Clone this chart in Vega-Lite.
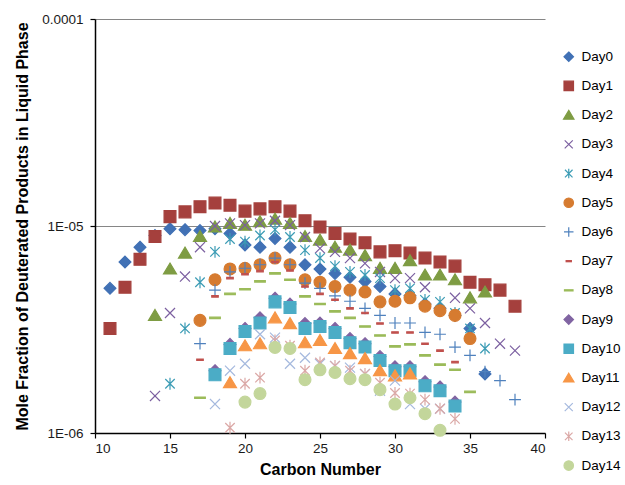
{
"$schema": "https://vega.github.io/schema/vega-lite/v6.json",
"width": 450,
"height": 414,
"autosize": {"type": "none"},
"padding": {"left": 95, "top": 19, "right": 80, "bottom": 52},
"background": "white",
"data": {"values": [
{"day":"Day0","c":11,"v":5.0e-6},{"day":"Day0","c":12,"v":6.7e-6},{"day":"Day0","c":13,"v":7.9e-6},{"day":"Day0","c":14,"v":9.0e-6},{"day":"Day0","c":15,"v":9.7e-6},{"day":"Day0","c":16,"v":9.6e-6},{"day":"Day0","c":17,"v":9.5e-6},{"day":"Day0","c":18,"v":9.7e-6},{"day":"Day0","c":19,"v":9.2e-6},{"day":"Day0","c":20,"v":8.1e-6},{"day":"Day0","c":21,"v":7.9e-6},{"day":"Day0","c":22,"v":8.7e-6},{"day":"Day0","c":23,"v":7.9e-6},{"day":"Day0","c":24,"v":6.5e-6},{"day":"Day0","c":25,"v":6.2e-6},{"day":"Day0","c":26,"v":5.9e-6},{"day":"Day0","c":27,"v":5.65e-6},{"day":"Day0","c":28,"v":5.4e-6},{"day":"Day0","c":29,"v":5.1e-6},{"day":"Day0","c":30,"v":4.7e-6},{"day":"Day0","c":31,"v":4.6e-6},{"day":"Day0","c":32,"v":4.2e-6},{"day":"Day0","c":33,"v":4.0e-6},{"day":"Day0","c":34,"v":3.7e-6},{"day":"Day0","c":35,"v":3.2e-6},{"day":"Day0","c":36,"v":1.93e-6},
{"day":"Day1","c":11,"v":3.2e-6},{"day":"Day1","c":12,"v":5.06e-6},{"day":"Day1","c":13,"v":6.9e-6},{"day":"Day1","c":14,"v":8.9e-6},{"day":"Day1","c":15,"v":1.11e-5},{"day":"Day1","c":16,"v":1.17e-5},{"day":"Day1","c":17,"v":1.24e-5},{"day":"Day1","c":18,"v":1.29e-5},{"day":"Day1","c":19,"v":1.26e-5},{"day":"Day1","c":20,"v":1.18e-5},{"day":"Day1","c":21,"v":1.21e-5},{"day":"Day1","c":22,"v":1.24e-5},{"day":"Day1","c":23,"v":1.18e-5},{"day":"Day1","c":24,"v":1.06e-5},{"day":"Day1","c":25,"v":9.9e-6},{"day":"Day1","c":26,"v":9.2e-6},{"day":"Day1","c":27,"v":8.65e-6},{"day":"Day1","c":28,"v":8.3e-6},{"day":"Day1","c":29,"v":7.5e-6},{"day":"Day1","c":30,"v":7.6e-6},{"day":"Day1","c":31,"v":7.4e-6},{"day":"Day1","c":32,"v":7.0e-6},{"day":"Day1","c":33,"v":6.7e-6},{"day":"Day1","c":34,"v":6.4e-6},{"day":"Day1","c":35,"v":5.35e-6},{"day":"Day1","c":36,"v":5.2e-6},{"day":"Day1","c":37,"v":4.9e-6},{"day":"Day1","c":38,"v":4.1e-6},
{"day":"Day2","c":14,"v":3.7e-6},{"day":"Day2","c":15,"v":6.2e-6},{"day":"Day2","c":16,"v":7.4e-6},{"day":"Day2","c":17,"v":8.9e-6},{"day":"Day2","c":18,"v":9.9e-6},{"day":"Day2","c":19,"v":1.03e-5},{"day":"Day2","c":20,"v":1.01e-5},{"day":"Day2","c":21,"v":1.05e-5},{"day":"Day2","c":22,"v":1.08e-5},{"day":"Day2","c":23,"v":1.03e-5},{"day":"Day2","c":24,"v":8.9e-6},{"day":"Day2","c":25,"v":8.55e-6},{"day":"Day2","c":26,"v":7.9e-6},{"day":"Day2","c":27,"v":7.65e-6},{"day":"Day2","c":28,"v":7.2e-6},{"day":"Day2","c":29,"v":6.25e-6},{"day":"Day2","c":30,"v":6.25e-6},{"day":"Day2","c":31,"v":6.8e-6},{"day":"Day2","c":32,"v":5.8e-6},{"day":"Day2","c":33,"v":5.8e-6},{"day":"Day2","c":34,"v":5.5e-6},{"day":"Day2","c":35,"v":4.5e-6},{"day":"Day2","c":36,"v":4.8e-6},
{"day":"Day3","c":14,"v":1.51e-6},{"day":"Day3","c":15,"v":3.8e-6},{"day":"Day3","c":16,"v":5.7e-6},{"day":"Day3","c":17,"v":7.9e-6},{"day":"Day3","c":18,"v":1.0e-5},{"day":"Day3","c":19,"v":1.03e-5},{"day":"Day3","c":20,"v":1.01e-5},{"day":"Day3","c":21,"v":1.03e-5},{"day":"Day3","c":22,"v":1.06e-5},{"day":"Day3","c":23,"v":1.01e-5},{"day":"Day3","c":24,"v":8.85e-6},{"day":"Day3","c":25,"v":7.8e-6},{"day":"Day3","c":26,"v":7.5e-6},{"day":"Day3","c":27,"v":7.0e-6},{"day":"Day3","c":28,"v":6.6e-6},{"day":"Day3","c":29,"v":6.0e-6},{"day":"Day3","c":30,"v":5.6e-6},{"day":"Day3","c":31,"v":5.6e-6},{"day":"Day3","c":32,"v":5.06e-6},{"day":"Day3","c":34,"v":4.5e-6},{"day":"Day3","c":35,"v":4.0e-6},{"day":"Day3","c":36,"v":3.4e-6},{"day":"Day3","c":37,"v":2.7e-6},{"day":"Day3","c":38,"v":2.5e-6},
{"day":"Day4","c":15,"v":1.73e-6},{"day":"Day4","c":16,"v":3.2e-6},{"day":"Day4","c":17,"v":5.35e-6},{"day":"Day4","c":18,"v":7.5e-6},{"day":"Day4","c":19,"v":8.65e-6},{"day":"Day4","c":20,"v":8.4e-6},{"day":"Day4","c":21,"v":9.0e-6},{"day":"Day4","c":22,"v":9.6e-6},{"day":"Day4","c":23,"v":8.85e-6},{"day":"Day4","c":24,"v":7.65e-6},{"day":"Day4","c":25,"v":7.0e-6},{"day":"Day4","c":26,"v":6.4e-6},{"day":"Day4","c":27,"v":6.0e-6},{"day":"Day4","c":28,"v":5.8e-6},{"day":"Day4","c":29,"v":5.6e-6},{"day":"Day4","c":30,"v":4.9e-6},{"day":"Day4","c":31,"v":5.0e-6},{"day":"Day4","c":32,"v":4.4e-6},{"day":"Day4","c":33,"v":4.3e-6},{"day":"Day4","c":34,"v":3.8e-6},{"day":"Day4","c":35,"v":3.2e-6},{"day":"Day4","c":36,"v":2.56e-6},
{"day":"Day5","c":17,"v":3.5e-6},{"day":"Day5","c":18,"v":5.5e-6},{"day":"Day5","c":19,"v":6.2e-6},{"day":"Day5","c":20,"v":6.25e-6},{"day":"Day5","c":21,"v":6.5e-6},{"day":"Day5","c":22,"v":7.0e-6},{"day":"Day5","c":23,"v":6.5e-6},{"day":"Day5","c":24,"v":5.5e-6},{"day":"Day5","c":25,"v":5.35e-6},{"day":"Day5","c":26,"v":5.1e-6},{"day":"Day5","c":27,"v":4.9e-6},{"day":"Day5","c":28,"v":4.8e-6},{"day":"Day5","c":29,"v":4.3e-6},{"day":"Day5","c":30,"v":4.33e-6},{"day":"Day5","c":31,"v":4.5e-6},{"day":"Day5","c":32,"v":4.1e-6},{"day":"Day5","c":33,"v":3.9e-6},{"day":"Day5","c":34,"v":3.7e-6},{"day":"Day5","c":35,"v":2.86e-6},
{"day":"Day6","c":17,"v":2.7e-6},{"day":"Day6","c":18,"v":4.9e-6},{"day":"Day6","c":19,"v":6.0e-6},{"day":"Day6","c":20,"v":6.25e-6},{"day":"Day6","c":21,"v":6.5e-6},{"day":"Day6","c":22,"v":7.0e-6},{"day":"Day6","c":23,"v":6.5e-6},{"day":"Day6","c":24,"v":5.3e-6},{"day":"Day6","c":25,"v":5.0e-6},{"day":"Day6","c":26,"v":4.6e-6},{"day":"Day6","c":27,"v":4.33e-6},{"day":"Day6","c":28,"v":4.0e-6},{"day":"Day6","c":29,"v":3.7e-6},{"day":"Day6","c":30,"v":3.4e-6},{"day":"Day6","c":31,"v":3.4e-6},{"day":"Day6","c":32,"v":3.06e-6},{"day":"Day6","c":33,"v":3.0e-6},{"day":"Day6","c":34,"v":2.6e-6},{"day":"Day6","c":35,"v":2.37e-6},{"day":"Day6","c":36,"v":1.98e-6},{"day":"Day6","c":37,"v":1.79e-6},{"day":"Day6","c":38,"v":1.45e-6},
{"day":"Day7","c":17,"v":2.26e-6},{"day":"Day7","c":18,"v":4.57e-6},{"day":"Day7","c":19,"v":5.6e-6},{"day":"Day7","c":20,"v":5.85e-6},{"day":"Day7","c":21,"v":6.05e-6},{"day":"Day7","c":22,"v":6.7e-6},{"day":"Day7","c":23,"v":6.1e-6},{"day":"Day7","c":24,"v":5.1e-6},{"day":"Day7","c":25,"v":4.7e-6},{"day":"Day7","c":26,"v":4.4e-6},{"day":"Day7","c":27,"v":4.0e-6},{"day":"Day7","c":28,"v":3.8e-6},{"day":"Day7","c":29,"v":3.38e-6},{"day":"Day7","c":30,"v":3.06e-6},{"day":"Day7","c":31,"v":3.06e-6},{"day":"Day7","c":32,"v":2.7e-6},{"day":"Day7","c":33,"v":2.5e-6},{"day":"Day7","c":34,"v":2.2e-6},
{"day":"Day8","c":17,"v":1.48e-6},{"day":"Day8","c":18,"v":3.6e-6},{"day":"Day8","c":19,"v":4.7e-6},{"day":"Day8","c":20,"v":4.95e-6},{"day":"Day8","c":21,"v":5.4e-6},{"day":"Day8","c":22,"v":5.9e-6},{"day":"Day8","c":23,"v":5.5e-6},{"day":"Day8","c":24,"v":4.57e-6},{"day":"Day8","c":25,"v":4.2e-6},{"day":"Day8","c":26,"v":3.87e-6},{"day":"Day8","c":27,"v":3.6e-6},{"day":"Day8","c":28,"v":3.27e-6},{"day":"Day8","c":29,"v":2.96e-6},{"day":"Day8","c":30,"v":2.62e-6},{"day":"Day8","c":31,"v":2.68e-6},{"day":"Day8","c":32,"v":2.37e-6},{"day":"Day8","c":33,"v":2.14e-6},{"day":"Day8","c":34,"v":2.02e-6},{"day":"Day8","c":35,"v":1.58e-6},
{"day":"Day9","c":18,"v":2.0e-6},{"day":"Day9","c":19,"v":2.68e-6},{"day":"Day9","c":20,"v":3.2e-6},{"day":"Day9","c":21,"v":3.6e-6},{"day":"Day9","c":22,"v":4.48e-6},{"day":"Day9","c":23,"v":4.2e-6},{"day":"Day9","c":24,"v":3.38e-6},{"day":"Day9","c":25,"v":3.4e-6},{"day":"Day9","c":26,"v":3.2e-6},{"day":"Day9","c":27,"v":2.86e-6},{"day":"Day9","c":28,"v":2.7e-6},{"day":"Day9","c":29,"v":2.34e-6},{"day":"Day9","c":30,"v":2.09e-6},{"day":"Day9","c":31,"v":2.09e-6},{"day":"Day9","c":32,"v":1.77e-6},{"day":"Day9","c":33,"v":1.67e-6},{"day":"Day9","c":34,"v":1.41e-6},
{"day":"Day10","c":18,"v":1.91e-6},{"day":"Day10","c":19,"v":2.56e-6},{"day":"Day10","c":20,"v":3.09e-6},{"day":"Day10","c":21,"v":3.4e-6},{"day":"Day10","c":22,"v":4.3e-6},{"day":"Day10","c":23,"v":4.04e-6},{"day":"Day10","c":24,"v":3.2e-6},{"day":"Day10","c":25,"v":3.27e-6},{"day":"Day10","c":26,"v":3.06e-6},{"day":"Day10","c":27,"v":2.73e-6},{"day":"Day10","c":28,"v":2.6e-6},{"day":"Day10","c":29,"v":2.24e-6},{"day":"Day10","c":30,"v":2.0e-6},{"day":"Day10","c":31,"v":2.0e-6},{"day":"Day10","c":32,"v":1.69e-6},{"day":"Day10","c":33,"v":1.6e-6},{"day":"Day10","c":34,"v":1.35e-6},
{"day":"Day11","c":19,"v":1.75e-6},{"day":"Day11","c":20,"v":2.64e-6},{"day":"Day11","c":21,"v":2.7e-6},{"day":"Day11","c":22,"v":3.6e-6},{"day":"Day11","c":23,"v":3.38e-6},{"day":"Day11","c":24,"v":2.73e-6},{"day":"Day11","c":25,"v":2.8e-6},{"day":"Day11","c":26,"v":2.56e-6},{"day":"Day11","c":27,"v":2.42e-6},{"day":"Day11","c":28,"v":2.29e-6},{"day":"Day11","c":29,"v":2.0e-6},{"day":"Day11","c":30,"v":1.89e-6},{"day":"Day11","c":31,"v":1.93e-6},
{"day":"Day12","c":18,"v":1.38e-6},{"day":"Day12","c":19,"v":2.0e-6},{"day":"Day12","c":20,"v":2.16e-6},{"day":"Day12","c":21,"v":3.0e-6},{"day":"Day12","c":22,"v":2.89e-6},{"day":"Day12","c":23,"v":2.16e-6},{"day":"Day12","c":24,"v":2.31e-6},{"day":"Day12","c":25,"v":2.16e-6},{"day":"Day12","c":26,"v":2.11e-6},{"day":"Day12","c":27,"v":2.07e-6},{"day":"Day12","c":28,"v":1.93e-6},{"day":"Day12","c":29,"v":1.6e-6},{"day":"Day12","c":30,"v":1.79e-6},{"day":"Day12","c":31,"v":1.38e-6},{"day":"Day12","c":32,"v":1.31e-6},{"day":"Day12","c":33,"v":1.31e-6},
{"day":"Day13","c":19,"v":1.06e-6},{"day":"Day13","c":20,"v":1.73e-6},{"day":"Day13","c":21,"v":1.85e-6},{"day":"Day13","c":22,"v":2.8e-6},{"day":"Day13","c":23,"v":2.64e-6},{"day":"Day13","c":24,"v":2.0e-6},{"day":"Day13","c":25,"v":2.19e-6},{"day":"Day13","c":26,"v":2.11e-6},{"day":"Day13","c":27,"v":2.0e-6},{"day":"Day13","c":28,"v":1.93e-6},{"day":"Day13","c":29,"v":1.75e-6},{"day":"Day13","c":30,"v":1.56e-6},{"day":"Day13","c":31,"v":1.55e-6},{"day":"Day13","c":32,"v":1.45e-6},{"day":"Day13","c":33,"v":1.31e-6},{"day":"Day13","c":34,"v":1.17e-6},
{"day":"Day14","c":20,"v":1.41e-6},{"day":"Day14","c":21,"v":1.55e-6},{"day":"Day14","c":22,"v":2.59e-6},{"day":"Day14","c":23,"v":2.56e-6},{"day":"Day14","c":24,"v":1.81e-6},{"day":"Day14","c":25,"v":2.02e-6},{"day":"Day14","c":26,"v":1.96e-6},{"day":"Day14","c":27,"v":1.83e-6},{"day":"Day14","c":28,"v":1.81e-6},{"day":"Day14","c":29,"v":1.62e-6},{"day":"Day14","c":30,"v":1.38e-6},{"day":"Day14","c":31,"v":1.48e-6},{"day":"Day14","c":32,"v":1.24e-6},{"day":"Day14","c":33,"v":1.03e-6}
]},
"mark": {"type": "point", "filled": true, "size": 140, "strokeWidth": 1.2, "opacity": 1, "fillOpacity": 1, "strokeOpacity": 1},
"encoding": {
  "x": {"field": "c", "type": "quantitative", "scale": {"domain": [10, 40], "nice": false, "zero": false},
        "axis": {"values": [10, 15, 20, 25, 30, 35, 40], "title": "Carbon Number", "grid": false, "tickSize": 5, "labelPadding": 3, "titlePadding": 7}},
  "y": {"field": "v", "type": "quantitative", "scale": {"type": "log", "domain": [0.000001, 0.0001], "nice": false},
        "axis": {"values": [0.000001, 0.00001, 0.0001], "title": "Mole Fraction of Deuterated Products in Liquid Phase", "grid": true, "tickSize": 5, "labelPadding": 7, "titlePadding": 11,
                 "labelExpr": "datum.value > 0.00005 ? '0.0001' : (datum.value > 0.000005 ? '1E-05' : '1E-06')"}},
  "fill": {"field": "day", "type": "nominal", "scale": {"domain": ["Day0","Day1","Day2","Day3","Day4","Day5","Day6","Day7","Day8","Day9","Day10","Day11","Day12","Day13","Day14"],
        "range": ["#4171B5","#A5403D","#7E9C43","#7B5FA0","#3C9CB5","#D67B30","#4F81BD","#C0504D","#9BBB59","#8064A2","#4BACC6","#F79646","#A5B9DE","#DBA8A6","#C3D69B"]}, "legend": {"title": null}},
  "stroke": {"field": "day", "type": "nominal", "scale": {"domain": ["Day0","Day1","Day2","Day3","Day4","Day5","Day6","Day7","Day8","Day9","Day10","Day11","Day12","Day13","Day14"],
        "range": ["#4171B5","#A5403D","#7E9C43","#7B5FA0","#3C9CB5","#D67B30","#4F81BD","#C0504D","#9BBB59","#8064A2","#4BACC6","#F79646","#A5B9DE","#DBA8A6","#C3D69B"]}, "legend": {"title": null}},
  "shape": {"field": "day", "type": "nominal", "scale": {"domain": ["Day0","Day1","Day2","Day3","Day4","Day5","Day6","Day7","Day8","Day9","Day10","Day11","Day12","Day13","Day14"],
        "range": ["M0,-1L1,0L0,1L-1,0Z","M-1,-1L1,-1L1,1L-1,1Z","M0,-1L1.1,0.85L-1.1,0.85Z","M-0.85,-0.85L0.85,0.85M-0.85,0.85L0.85,-0.85","M-0.8,-0.8L0.8,0.8M-0.8,0.8L0.8,-0.8M0,-1L0,1","circle","M-1,0L1,0M0,-1L0,1","M-0.55,-0.12L0.55,-0.12L0.55,0.12L-0.55,0.12Z","M-0.9,-0.12L0.9,-0.12L0.9,0.12L-0.9,0.12Z","M0,-1L1,0L0,1L-1,0Z","M-1,-1L1,-1L1,1L-1,1Z","M0,-1L1.1,0.85L-1.1,0.85Z","M-0.85,-0.85L0.85,0.85M-0.85,0.85L0.85,-0.85","M-0.8,-0.8L0.8,0.8M-0.8,0.8L0.8,-0.8M0,-1L0,1","circle"]}, "legend": {"title": null}}
},
"config": {
  "font": "Liberation Sans",
  "view": {"stroke": null},
  "axis": {"domainColor": "#000000", "domainWidth": 1.5, "tickColor": "#000000", "tickWidth": 1.2, "labelColor": "#1a1a1a", "labelFontSize": 13.5, "labelFont": "Liberation Sans",
           "titleFont": "Liberation Sans", "titleFontSize": 16, "titleFontWeight": "bold", "titleColor": "#000000", "gridColor": "#868686", "gridWidth": 1},
  "legend": {"orient": "none", "legendX": 467, "legendY": 31, "symbolSize": 90, "symbolStrokeWidth": 1.2, "labelFontSize": 13.5, "labelColor": "#000000", "labelFont": "Liberation Sans", "rowPadding": 14.2, "labelOffset": 6, "padding": 0}
}
}
